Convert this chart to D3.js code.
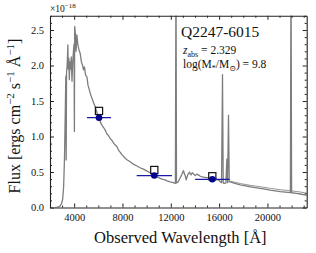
<!DOCTYPE html>
<html>
<head>
<meta charset="utf-8">
<script src="https://cdn.jsdelivr.net/npm/d3@7"></script>
<style>
	body { margin: 0; background: #fff; }
	text { font-family: "Liberation Serif", "DejaVu Serif", serif; fill: #111; }
	.axis path, .axis line { stroke: #222; }
</style>
</head>
<body>
<svg id="chart"></svg>
<script>
// model spectrum (observed frame), flux in 1e-18 erg/s/cm2/A
var wave = [2400, 2600, 2800, 2950, 3050, 3130, 3200, 3260, 3310, 3340, 3370, 3420, 3480, 3510, 3560, 3600, 3650, 3700, 3760, 3820, 3880, 3940, 3990, 4020, 4045, 4100, 4160, 4227, 4300, 4400, 4500, 4600, 4700, 4773, 4850, 4950, 5055, 5150, 5250, 5328, 5470, 5600, 5742, 5850, 5950, 6056, 6156, 6300, 6420, 6570, 6700, 6850, 6983, 7150, 7300, 7400, 7538, 7700, 7850, 7950, 8084, 8250, 8400, 8639, 8900, 9194, 9450, 9740, 10000, 10295, 10500, 10709, 10900, 11123, 11350, 11536, 11750, 11950, 12200, 12380, 12430, 12470, 12613, 12780, 12900, 13051, 13130, 13192, 13275, 13400, 13548, 13620, 13689, 13770, 13854, 13940, 14020, 14150, 14268, 14450, 14600, 14800, 15013, 15200, 15427, 15600, 15758, 15900, 16007, 16100, 16200, 16280, 16340, 16480, 16560, 16640, 16700, 16776, 16840, 16917, 17300, 17745, 18200, 18573, 19000, 19400, 19800, 20230, 20650, 21060, 21500, 21900, 21950, 22000, 22400, 22730, 23290];
var flux = [0.0, 0.003, 0.015, 0.05, 0.12, 0.3, 0.7, 1.3, 1.85, 0.67, 1.9, 2.0, 2.29, 1.95, 2.1, 1.8, 2.05, 1.95, 2.12, 1.78, 2.05, 2.2, 2.3, 1.07, 2.55, 2.45, 2.2, 2.43, 2.3, 2.22, 2.17, 2.05, 2.0, 1.94, 1.98, 1.86, 1.84, 1.72, 1.66, 1.61, 1.54, 1.48, 1.42, 1.36, 1.3, 1.265, 1.21, 1.16, 1.13, 1.09, 1.04, 1.01, 0.97, 0.94, 0.9, 0.88, 0.86, 0.8, 0.77, 0.745, 0.72, 0.69, 0.67, 0.645, 0.61, 0.585, 0.56, 0.54, 0.515, 0.49, 0.47, 0.45, 0.43, 0.41, 0.395, 0.39, 0.37, 0.36, 0.35, 0.34, 3.5, 0.345, 0.36, 0.42, 0.46, 0.52, 0.47, 0.45, 0.39, 0.46, 0.5, 0.47, 0.46, 0.49, 0.48, 0.46, 0.45, 0.47, 0.46, 0.44, 0.43, 0.425, 0.42, 0.415, 0.41, 0.405, 0.4, 0.39, 0.38, 0.36, 0.35, 1.87, 0.345, 0.34, 0.345, 0.68, 0.35, 1.3, 0.36, 0.36, 0.34, 0.32, 0.305, 0.29, 0.28, 0.27, 0.258, 0.245, 0.235, 0.225, 0.217, 0.21, 3.5, 0.208, 0.198, 0.19, 0.17];

// second (lighter) spectrum, only separates in the red tail
var wave2 = [16917, 17300, 17745, 18200, 18573, 19000, 19400, 19800, 20230, 20650, 21060, 21500, 21900, 22400, 22730, 23290];
var flux2 = [0.37, 0.355, 0.338, 0.324, 0.312, 0.302, 0.293, 0.282, 0.27, 0.26, 0.251, 0.243, 0.236, 0.226, 0.219, 0.2];

// photometry
var photWave = [6056, 10634, 15435];
var photFlux = [1.265, 0.45, 0.397];
var photErr = [1000, 1460, 1420];
var modelPhot = [1.36, 0.528, 0.44];

var xTicks = [4000, 8000, 12000, 16000, 20000];
var yTicks = [0, 0.5, 1.0, 1.5, 2.0, 2.5];

var width = 316, height = 253;
var plot = {left: 50, right: 306.7, top: 15.8, bottom: 207.5};

var svg = d3.select("#chart").attr("width", width).attr("height", height);

var x = d3.scaleLinear().domain([2000, 23250]).range([plot.left, plot.right]);
var y = d3.scaleLinear().domain([0, 2.7]).range([plot.bottom, plot.top]);

svg.append("clipPath").attr("id", "clip")
	.append("rect")
	.attr("x", plot.left).attr("y", plot.top)
	.attr("width", plot.right - plot.left).attr("height", plot.bottom - plot.top);

var line = d3.line().x(function(d) { return x(d[0]); }).y(function(d) { return y(d[1]); });

var g = svg.append("g").attr("clip-path", "url(#clip)");

g.append("path")
	.datum(d3.zip(wave2, flux2))
	.attr("d", line)
	.style("fill", "none").style("stroke", "#9a9a9a").style("stroke-width", 1.1);

g.append("path")
	.datum(d3.zip(wave, flux))
	.attr("d", line)
	.style("fill", "none").style("stroke", "#7d7d7d").style("stroke-width", 1.3)
	.style("stroke-linejoin", "round");

// model photometry squares
g.selectAll(".modsq").data(d3.zip(photWave, modelPhot)).enter()
	.append("rect")
	.attr("x", function(d) { return x(d[0]) - 3.6; })
	.attr("y", function(d) { return y(d[1]) - 3.6; })
	.attr("width", 7.2).attr("height", 7.2)
	.style("fill", "none").style("stroke", "#111").style("stroke-width", 1.2);

// observed photometry with filter widths
g.selectAll(".err").data(d3.zip(photWave, photFlux, photErr)).enter()
	.append("line")
	.attr("x1", function(d) { return x(d[0] - d[2]); })
	.attr("x2", function(d) { return x(d[0] + d[2]); })
	.attr("y1", function(d) { return y(d[1]); })
	.attr("y2", function(d) { return y(d[1]); })
	.style("stroke", "#1a1aa6").style("stroke-width", 1.3);

g.selectAll(".pt").data(d3.zip(photWave, photFlux)).enter()
	.append("circle")
	.attr("cx", function(d) { return x(d[0]); })
	.attr("cy", function(d) { return y(d[1]); })
	.attr("r", 3.3)
	.style("fill", "#00008b");

// axes, ticks inward on all sides
var xMinor = d3.range(3000, 23001, 1000).filter(function(v) { return xTicks.indexOf(v) < 0; });
var yMinor = d3.range(0, 2.71, 0.1).filter(function(v) { return Math.abs(v * 2 - Math.round(v * 2)) > 0.01; });

function drawAxis(axisFn, scale, pos, majors, minors, fmt) {
	var ga = svg.append("g").attr("class", "axis").attr("transform", pos);
	ga.call(axisFn(scale).tickValues(minors).tickSize(-2).tickSizeOuter(0).tickFormat(""));
	ga.select(".domain").remove();
	var gb = svg.append("g").attr("class", "axis").attr("transform", pos);
	gb.call(axisFn(scale).tickValues(majors).tickSize(-4).tickSizeOuter(0).tickPadding(6)
		.tickFormat(fmt ? fmt : ""));
	gb.selectAll("text").style("font-size", "10.5px");
	return gb;
}

drawAxis(d3.axisBottom, x, "translate(0," + plot.bottom + ")", xTicks, xMinor, d3.format("d"));
drawAxis(d3.axisTop, x, "translate(0," + plot.top + ")", xTicks, xMinor, null);
drawAxis(d3.axisLeft, y, "translate(" + plot.left + ",0)", yTicks, yMinor, d3.format(".1f"));
drawAxis(d3.axisRight, y, "translate(" + plot.right + ",0)", yTicks, yMinor, null);

svg.selectAll(".axis path").style("stroke-width", 1.1);

// labels
svg.append("text")
	.attr("x", (plot.left + plot.right) / 2 + 2)
	.attr("y", 243)
	.attr("text-anchor", "middle")
	.style("font-size", "16.5px")
	.text("Observed Wavelength [Å]");

var yl = svg.append("text")
	.attr("transform", "translate(20," + 116 + ") rotate(-90)")
	.attr("text-anchor", "middle")
	.style("font-size", "16px");
yl.append("tspan").text("Flux [ergs cm");
yl.append("tspan").attr("dy", -6).style("font-size", "11px").text("−2");
yl.append("tspan").attr("dy", 6).text(" s");
yl.append("tspan").attr("dy", -6).style("font-size", "11px").text("−1");
yl.append("tspan").attr("dy", 6).text(" Å");
yl.append("tspan").attr("dy", -6).style("font-size", "11px").text("−1");
yl.append("tspan").attr("dy", 6).text("]");

var sc = svg.append("text").attr("x", plot.left).attr("y", 12).style("font-size", "9.5px");
sc.append("tspan").text("×10");
sc.append("tspan").attr("dy", -4).style("font-size", "7px").text("−18");

svg.append("text").attr("x", 181).attr("y", 37).style("font-size", "15.5px").text("Q2247-6015");

var zt = svg.append("text").attr("x", 183).attr("y", 54).style("font-size", "11.5px");
zt.append("tspan").style("font-style", "italic").text("z");
zt.append("tspan").attr("dy", 2.5).style("font-size", "8px").text("abs");
zt.append("tspan").attr("dy", -2.5).text(" = 2.329");

var mt = svg.append("text").attr("x", 183).attr("y", 68).style("font-size", "11.5px");
mt.append("tspan").text("log(M");
mt.append("tspan").attr("dy", 2.5).style("font-size", "8px").text("*");
mt.append("tspan").attr("dy", -2.5).text("/M");
mt.append("tspan").attr("dy", 2.5).style("font-size", "8px").text("⊙");
mt.append("tspan").attr("dy", -2.5).text(") = 9.8");
</script>
</body>
</html>
